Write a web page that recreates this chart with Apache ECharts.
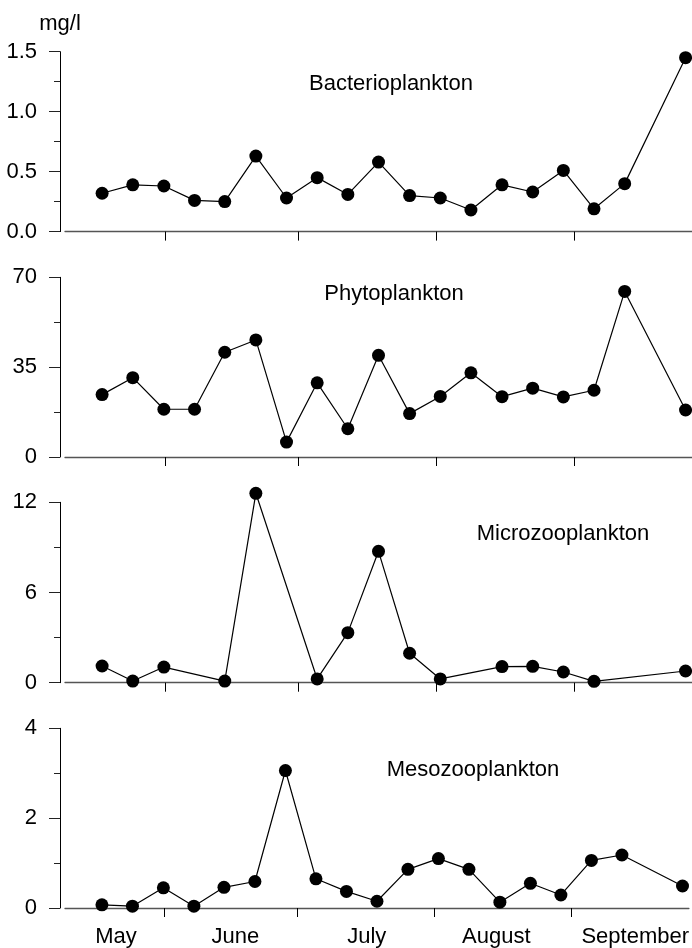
<!DOCTYPE html>
<html>
<head>
<meta charset="utf-8">
<script src="https://cdn.jsdelivr.net/npm/echarts@6/dist/echarts.min.js"></script>
<style>
html,body{margin:0;padding:0;background:#fff;}
#chart{width:692px;height:948px;}
</style>
</head>
<body>
<div id="chart"></div>
<script>
// Sampling days (days after 1 May)
const sampleDay = [16.8, 23.7, 30.7, 37.6, 44.4, 51.4, 58.3, 65.2, 72.1, 79.0, 86.0, 92.9, 99.8, 106.8, 113.7, 120.6, 127.5, 134.4, 148.1];
// Biomass, mg/l
const bacterio = [0.32, 0.39, 0.38, 0.26, 0.25, 0.63, 0.28, 0.45, 0.31, 0.58, 0.30, 0.28, 0.18, 0.39, 0.33, 0.51, 0.19, 0.40, 1.45];
const phyto = [24.3, 30.9, 18.6, 18.6, 40.8, 45.6, 5.8, 28.9, 11.0, 39.6, 16.9, 23.6, 32.8, 23.5, 26.8, 23.4, 26.0, 64.5, 18.3];
const microzoo = [1.11, 0.11, 1.04, null, 0.11, 12.6, null, 0.25, 3.33, 8.74, 1.96, 0.25, null, 1.07, 1.09, 0.71, 0.09, null, 0.78];
const mesozoo = [0.07, 0.04, 0.45, 0.04, 0.46, 0.59, 3.06, 0.65, 0.37, 0.15, 0.86, 1.10, 0.86, 0.13, 0.55, 0.29, 1.06, 1.18, 0.49];

const panelNames = ['Bacterioplankton', 'Phytoplankton', 'Microzooplankton', 'Mesozooplankton'];
const yMax = [1.5, 70, 12, 4];
const yStep = [0.5, 35, 6, 2];
const yDecimals = [1, 0, 0, 0];

// Month boundaries (days after 1 May) and month label positions
const monthStart = [31, 61, 92, 123];
const monthNames = ['May', 'June', 'July', 'August', 'September'];
const monthLabelDay = [20, 47, 76.7, 106, 137.4];

const xRange = [8.45, 149.55];

// Layout (pixels)
const gridTop = [51.7, 277.3, 502.3, 728.3];
const gridHeight = [179.9, 179.7, 180.4, 180.7];
const titlePos = [[391, 83.7], [394, 293.5], [563, 533.5], [473, 770]];

const seriesValues = [bacterio, phyto, microzoo, mesozoo];
const FONT = "'Liberation Sans', Arial, Helvetica, sans-serif";

const grids = [], xAxes = [], yAxes = [], series = [], graphics = [];
for (let i = 0; i < 4; i++) {
  grids.push({ left: 65, right: 0, top: gridTop[i], height: gridHeight[i], containLabel: false });
  const isLast = i === 3;
  xAxes.push({
    type: 'value', gridIndex: i, min: xRange[0], max: xRange[1],
    splitLine: { show: false },
    axisLine: { show: true, onZero: false, lineStyle: { color: '#555', width: 1.3 } },
    axisTick: { show: true, customValues: monthStart, length: 9, inside: false, lineStyle: { color: '#000', width: 1 } },
    axisLabel: {
      show: isLast, customValues: monthLabelDay, margin: 18,
      fontFamily: FONT, fontSize: 22, color: '#000',
      formatter: function (v) {
        let k = 0, best = Infinity;
        monthLabelDay.forEach((d, j) => { const e = Math.abs(d - v); if (e < best) { best = e; k = j; } });
        return monthNames[k];
      }
    }
  });
  const dec = yDecimals[i];
  yAxes.push({
    type: 'value', gridIndex: i, min: 0, max: yMax[i], interval: yStep[i], offset: 5,
    name: i === 0 ? 'mg/l' : '',
    nameLocation: 'end', nameGap: 28,
    nameTextStyle: { fontFamily: FONT, fontSize: 22, color: '#000', align: 'center', verticalAlign: 'middle' },
    splitLine: { show: false },
    axisLine: { show: true, lineStyle: { color: '#000', width: 1 } },
    axisTick: { show: true, length: 11, lineStyle: { color: '#222', width: 1 } },
    minorTick: { show: true, splitNumber: 2, length: 6, lineStyle: { color: '#222', width: 1 } },
    minorSplitLine: { show: false },
    axisLabel: {
      margin: 23, fontFamily: FONT, fontSize: 22, color: '#000',
      formatter: function (v) { return v.toFixed(dec); }
    }
  });
  const vals = seriesValues[i];
  series.push({
    type: 'line', name: panelNames[i], xAxisIndex: i, yAxisIndex: i,
    data: sampleDay.map((d, j) => [d, vals[j]]).filter(p => p[1] !== null),
    symbol: 'circle', symbolSize: 13, clip: false,
    itemStyle: { color: '#000' },
    lineStyle: { color: '#000', width: 1.2 },
    emphasis: { disabled: true },
    animation: false
  });
  graphics.push({
    type: 'text', x: titlePos[i][0], y: titlePos[i][1],
    style: {
      text: panelNames[i], fill: '#000', font: '22px ' + FONT,
      textAlign: 'center', textVerticalAlign: 'middle', align: 'center', verticalAlign: 'middle'
    }
  });
}

const chart = echarts.init(document.getElementById('chart'), null, { renderer: 'canvas' });
chart.setOption({
  backgroundColor: '#fff',
  animation: false,
  grid: grids,
  xAxis: xAxes,
  yAxis: yAxes,
  series: series,
  graphic: graphics
});
</script>
</body>
</html>
